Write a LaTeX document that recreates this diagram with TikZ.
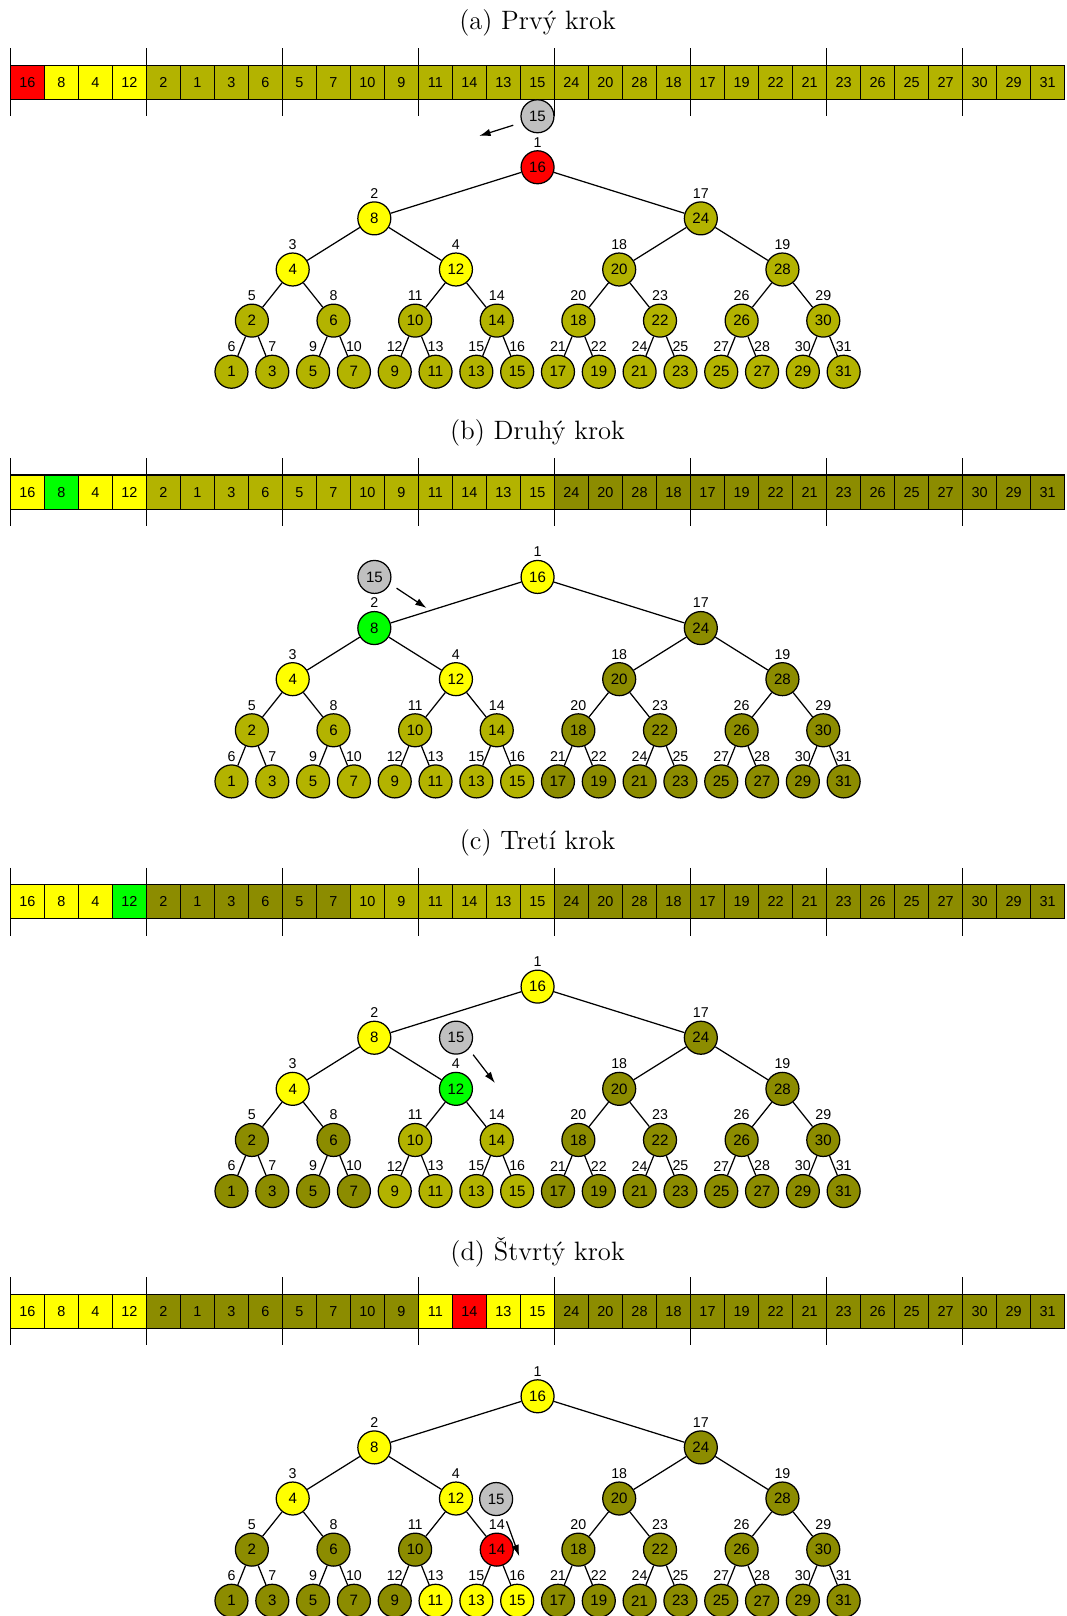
\documentclass[tikz,border=0pt]{standalone}
\usepackage{fontspec}
\newfontfamily\arialf{Liberation Sans}
\usetikzlibrary{arrows.meta}
\definecolor{cL}{RGB}{179,179,0}
\definecolor{cD}{RGB}{140,140,0}
\definecolor{cY}{RGB}{255,255,0}
\definecolor{cR}{RGB}{255,0,0}
\definecolor{cG}{RGB}{0,255,0}
\definecolor{cGr}{RGB}{192,192,192}
\def\heaparr{{16,8,4,12,2,1,3,6,5,7,10,9,11,14,13,15,24,20,28,18,17,19,22,21,23,26,25,27,30,29,31}}
\def\heapidx{{6,5,7,3,9,8,10,2,12,11,13,4,15,14,16,1,21,20,22,18,24,23,25,17,27,26,28,19,30,29,31}}
\newcommand\heapcol[2]{%
  \def\mycol{cL}%
  \ifcase#1 %
    \ifnum#2<5 \def\mycol{cY}\fi
    \ifnum#2=1 \def\mycol{cR}\fi
  \or
    \ifnum#2>16 \def\mycol{cD}\fi
    \ifnum#2<5 \def\mycol{cY}\fi
    \ifnum#2=2 \def\mycol{cG}\fi
  \or
    \def\mycol{cD}%
    \ifnum#2>10 \ifnum#2<17 \def\mycol{cL}\fi\fi
    \ifnum#2<4 \def\mycol{cY}\fi
    \ifnum#2=4 \def\mycol{cG}\fi
  \or
    \def\mycol{cD}%
    \ifnum#2<5 \def\mycol{cY}\fi
    \ifnum#2>12 \ifnum#2<17 \def\mycol{cY}\fi\fi
    \ifnum#2=14 \def\mycol{cR}\fi
  \fi}
\tikzset{
  tnode/.style={circle, draw=black, line width=0.6pt, minimum size=16pt, inner sep=0pt, font=\arialf\fontsize{7.3}{8}\selectfont},
  cellbox/.style={rectangle, draw=black, line width=0.6pt, minimum width=16.5pt, minimum height=16.5pt, inner sep=0pt, font=\arialf\fontsize{7}{8}\selectfont},
  idxlabel/.style={inner sep=0pt, font=\arialf\fontsize{6.9}{7}\selectfont},
  tickline/.style={line width=0.7pt},
  treeedge/.style={line width=0.6pt},
  movearrow/.style={line width=0.6pt, -{Latex[length=5.5pt,width=3.6pt]}},
  capt/.style={font=\fontsize{12.9}{15}\selectfont, inner sep=0pt},
  greynode/.style={tnode, fill=cGr},
}
\begin{document}
\begin{tikzpicture}[x=0.5pt, y=-0.5pt]
\useasboundingbox (0,0) rectangle (1035,1568);
\foreach \pp in {0,1,2,3} {
  \pgfmathsetmacro\oy{397.5*\pp}
  \node[capt] (cap\pp) at (521.6,{22.5+\oy}) {\ifcase\pp (a) Prvý krok\or (b) Druhý krok\or (c) Tretí krok\or (d) Štvrtý krok\fi};
  % array cells
  \foreach \ii in {1,...,31} {
    \pgfmathtruncatemacro\val{\heaparr[\ii-1]}
    \heapcol{\pp}{\ii}
    \node[cellbox, fill=\mycol] (c\pp-\ii) at ({33*\ii-6.5},{80+\oy}) {\val};
  }
  % group ticks
  \foreach \kk in {0,...,7} {
    \coordinate (tt\pp-\kk) at ({10+132*\kk},{47+\oy});
    \coordinate (tb\pp-\kk) at ({10+132*\kk},{113+\oy});
    \draw[tickline] (tt\pp-\kk) -- (tb\pp-\kk);
  }
  % tree nodes
  \foreach \lev in {0,...,4} {
    \pgfmathtruncatemacro\nn{2^\lev-1}
    \pgfmathtruncatemacro\stp{2^(4-\lev)}
    \foreach \jj in {0,...,\nn} {
      \pgfmathtruncatemacro\val{(2*\jj+1)*\stp}
      \pgfmathsetmacro\xx{521.6+39.6*((\jj+0.5)*\stp-8)}
      \pgfmathsetmacro\yy{162.3+49.6*\lev+\oy}
      \pgfmathtruncatemacro\idx{\heapidx[\val-1]}
      \heapcol{\pp}{\idx}
      \node[tnode, fill=\mycol] (t\pp-\val) at (\xx,\yy) {\val};
      \node[idxlabel] (l\pp-\val) at (\xx,\yy-24.3) {\idx};
    }
  }
  % tree edges
  \foreach \lev in {0,...,3} {
    \pgfmathtruncatemacro\nn{2^\lev-1}
    \pgfmathtruncatemacro\stp{2^(4-\lev)}
    \pgfmathtruncatemacro\hstp{2^(3-\lev)}
    \foreach \jj in {0,...,\nn} {
      \pgfmathtruncatemacro\val{(2*\jj+1)*\stp}
      \pgfmathtruncatemacro\vleft{\val-\hstp}
      \pgfmathtruncatemacro\vright{\val+\hstp}
      \draw[treeedge] (t\pp-\val) -- (t\pp-\vleft);
      \draw[treeedge] (t\pp-\val) -- (t\pp-\vright);
    }
  }
}
% moving element 15 and its arrows
\node[greynode] (g0) at (521.5,112.8) {15};
\coordinate (as0) at (498,121.5);
\coordinate (ae0) at (465,131.9);
\draw[movearrow] (as0) -- (ae0);
\node[greynode] (g1) at (363.3,559.8) {15};
\coordinate (as1) at (384.8,570.7);
\coordinate (ae1) at (413.9,590);
\draw[movearrow] (as1) -- (ae1);
\node[greynode] (g2) at (442.5,1006.8) {15};
\coordinate (as2) at (459.1,1023.4);
\coordinate (ae2) at (480.2,1050.8);
\draw[movearrow] (as2) -- (ae2);
\node[greynode] (g3) at (481.4,1454.5) {15};
\coordinate (as3) at (491.5,1476.1);
\coordinate (ae3) at (503.8,1510);
\draw[movearrow] (as3) -- (ae3);
\end{tikzpicture}
\end{document}
